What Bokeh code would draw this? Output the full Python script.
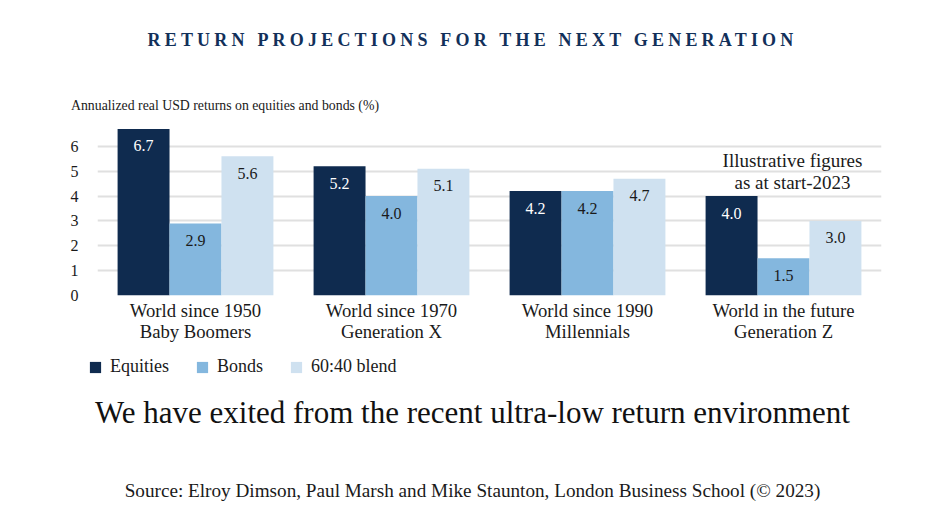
from bokeh.plotting import figure
from bokeh.models import (ColumnDataSource, FactorRange, FixedTicker, Legend, LegendItem,
                          Label, Div)
from bokeh.transform import dodge
from bokeh.layouts import column, row
from bokeh.embed import file_html
from bokeh.resources import INLINE
from bokeh.core.properties import value

# ---- data ----
categories = ["World since 1950\nBaby Boomers", "World since 1970\nGeneration X",
              "World since 1990\nMillennials", "World in the future\nGeneration Z"]
equities = [6.7, 5.2, 4.2, 4.0]
bonds = [2.9, 4.0, 4.2, 1.5]
blend = [5.6, 5.1, 4.7, 3.0]
series_names = ["Equities", "Bonds", "60:40 blend"]
y_ticks = [0, 1, 2, 3, 4, 5, 6]

title_text = "RETURN PROJECTIONS FOR THE NEXT GENERATION"
ylabel_text = "Annualized real USD returns on equities and bonds (%)"
note_text = "Illustrative figures\nas at start-2023"
subtitle_text = "We have exited from the recent ultra-low return environment"
source_text = "Source: Elroy Dimson, Paul Marsh and Mike Staunton, London Business School (\u00a9 2023)"

FONT = "Liberation Serif"
NAVY = "#0f2b4f"
MID = "#84b7de"
LIGHT = "#cfe1f0"
TXT = "#1a1a1a"

src = ColumnDataSource(dict(cat=categories, equities=equities, bonds=bonds, blend=blend,
                            eq_lbl=[f"{v:.1f}" for v in equities],
                            bo_lbl=[f"{v:.1f}" for v in bonds],
                            bl_lbl=[f"{v:.1f}" for v in blend]))

W = 929

title_div = Div(text=f'<div style="font-family:\'{FONT}\';font-weight:bold;font-size:18px;'
                     f'letter-spacing:4.2px;color:#12305a;text-align:center;width:{W}px;'
                     f'line-height:20px;padding-top:22px;white-space:nowrap;">{title_text}</div>',
                width=W, height=60, margin=(0, 0, 0, 0))

ylabel_div = Div(text=f'<div style="font-family:\'{FONT}\';font-size:13.8px;color:{TXT};'
                      f'line-height:18px;padding-top:29px;padding-left:63px;white-space:nowrap;">{ylabel_text}</div>',
                 width=W, height=47, margin=(0, 0, 0, 0))

p = figure(x_range=FactorRange(*categories), y_range=(0, 7),
           frame_width=784, frame_height=174,
           min_border_left=89, min_border_right=56, min_border_top=6, min_border_bottom=58,
           output_backend="svg", toolbar_location=None, margin=(0, 0, 0, 0))
p.outline_line_color = None
p.background_fill_color = "white"
p.border_fill_color = "white"

bw = 0.265
offs = [-bw, 0.0, bw]
cols = ["equities", "bonds", "blend"]
lbls = ["eq_lbl", "bo_lbl", "bl_lbl"]
colors = [NAVY, MID, LIGHT]
txt_colors = ["white", TXT, TXT]

for c, off, col, lb, tc in zip(cols, offs, colors, lbls, txt_colors):
    p.vbar(x=dodge("cat", off, range=p.x_range), top=c, width=bw, source=src,
           fill_color=col, line_color=None)
    p.text(x=dodge("cat", off, range=p.x_range), y=c, text=lb, source=src,
           text_align="center", text_baseline="middle", y_offset=17,
           text_font=value(FONT), text_font_size="16px", text_color=tc)

# axes
p.yaxis.ticker = FixedTicker(ticks=y_ticks)
p.yaxis.axis_line_color = None
p.yaxis.major_tick_line_color = None
p.yaxis.minor_tick_line_color = None
p.yaxis.major_label_text_font = FONT
p.yaxis.major_label_text_font_size = "16px"
p.yaxis.major_label_text_color = TXT
p.yaxis.major_label_standoff = 13

p.xaxis.axis_line_color = None
p.xaxis.major_tick_line_color = None
p.xaxis.minor_tick_line_color = None
p.xaxis.major_label_text_font = FONT
p.xaxis.major_label_text_font_size = "18.7px"
p.xaxis.major_label_text_color = TXT
p.xaxis.major_label_text_line_height = 1.0
p.xaxis.major_label_standoff = -2

p.xgrid.grid_line_color = None
p.ygrid.grid_line_color = "#e0e0e0"
p.ygrid.grid_line_width = 1.8

# note
p.add_layout(Label(x=3.546, y=5.0, text=note_text, text_align="center", text_baseline="middle",
                   text_font=FONT, text_font_size="19px", text_color=TXT,
                   text_line_height=1.05))

# legend in its own strip (proxy glyphs lie outside the strip's visible range)
lg = figure(width=W, height=34, x_range=(0, 1), y_range=(0, 1),
            min_border=0, x_axis_location=None, y_axis_location=None,
            output_backend="svg", toolbar_location=None, margin=(0, 0, 0, 0))
lg.outline_line_color = None
lg.grid.grid_line_color = None
proxies = [lg.vbar(x=[-5], top=[-5], width=0.1, fill_color=col, line_color=None) for col in colors]
legend = Legend(items=[LegendItem(label=n, renderers=[r]) for n, r in zip(series_names, proxies)],
                orientation="horizontal", location=(80, 10),
                glyph_width=14, glyph_height=14, label_standoff=8, spacing=26,
                padding=0, margin=0, label_height=20,
                label_text_font=FONT, label_text_font_size="18px", label_text_color=TXT,
                border_line_color=None, background_fill_alpha=0)
lg.add_layout(legend, "center")

subtitle_div = Div(text=f'<div style="font-family:\'{FONT}\';font-size:31px;color:#111;'
                        f'text-align:center;width:{W}px;line-height:36px;padding-top:8px;white-space:nowrap;">{subtitle_text}</div>',
                   width=W, height=53, margin=(0, 0, 0, 0))

source_div = Div(text=f'<div style="font-family:\'{FONT}\';font-size:19.2px;color:{TXT};'
                      f'text-align:center;width:{W}px;line-height:22px;padding-top:40px;white-space:nowrap;">{source_text}</div>',
                 width=W, height=83, margin=(0, 0, 0, 0))

layout = column(title_div, ylabel_div, p, row(lg, margin=(0, 0, 0, 0)), subtitle_div, source_div,
                spacing=0, margin=(8, 0, 0, 8))

open("out.html", "w").write(file_html(layout, INLINE))
